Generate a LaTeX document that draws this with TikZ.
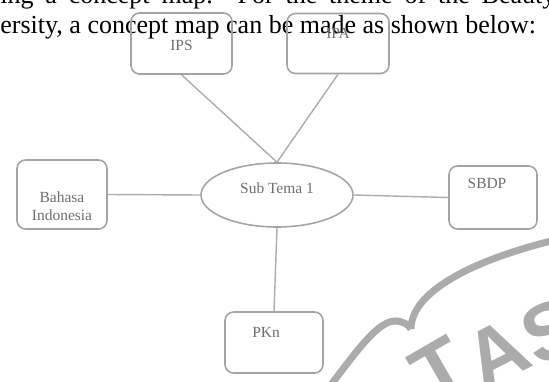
\documentclass[tikz,border=0pt]{standalone}
\usepackage{fontspec}
\setmainfont{Liberation Serif}
\newfontfamily\wmfont{Liberation Sans}
\usetikzlibrary{shapes.geometric}

\definecolor{boxgray}{HTML}{A4A4A4}
\definecolor{linegray}{HTML}{ACACAC}
\definecolor{lblgray}{HTML}{6E6E6E}
\definecolor{wmgray}{HTML}{ABABAB}

\begin{document}
\begin{tikzpicture}[
        box/.style={draw=boxgray,line width=0.9pt,rounded corners=0.17cm,inner sep=0pt},
        conn/.style={draw=linegray,line width=0.8pt},
        lbl/.style={text=lblgray,font=\fontsize{8.8}{10.5}\selectfont,align=center,inner sep=0pt},
        body/.style={font=\fontsize{14.8}{17}\selectfont,inner sep=0pt,anchor=base west},
        wm/.style={text=wmgray,font=\wmfont\bfseries\fontsize{46}{46}\selectfont,inner sep=0pt}
    ]
        \useasboundingbox (0,0) rectangle (10.98,7.62);

        % watermark
        \draw[wmgray,line width=0.14cm] (6.6,-0.1) .. controls (7.1,0.55) and (7.55,1.2) .. (7.9,1.2)
            .. controls (8.06,1.2) and (8.18,1.12) .. (8.22,1.04);
        \draw[wmgray,line width=0.14cm] (8.22,1.04) .. controls (8.22,1.7) and (9.2,2.35) .. (11.1,2.82);
        \node[wm,rotate=30] (wmT) at (8.8,0.22) {T};
        \node[wm,rotate=27] (wmA) at (9.94,0.56) {A};
        \node[wm,rotate=24] (wmS) at (11.02,1.0) {S};

        % text above the map
        \node[body] (line1) at (0,7.54) {\makebox[11.1cm][s]{ing a concept map. For the theme of the Beauty}};
        \node[body] (line2) at (0,6.95) {ersity, a concept map can be made as shown below:};

        % concept map
        \node[box,minimum width=2.02cm,minimum height=1.22cm] (ips) at (3.63,6.75) {};
        \node[box,minimum width=2.04cm,minimum height=1.2cm] (ipa) at (6.76,6.75) {};
        \node[box,minimum width=1.8cm,minimum height=1.38cm] (bahasa) at (1.24,3.73) {};
        \node[box,minimum width=1.76cm,minimum height=1.26cm] (sbdp) at (9.86,3.67) {};
        \node[box,minimum width=1.96cm,minimum height=1.22cm] (pkn) at (5.48,0.77) {};
        \node[draw=boxgray,line width=0.9pt,ellipse,minimum width=3.04cm,minimum height=1.28cm,inner sep=0pt] (tema) at (5.54,3.72) {};

        \node[lbl] (ips-t) at (3.63,6.72) {IPS};
        \node[lbl] (ipa-t) at (6.76,6.96) {IPA};
        \node[lbl] (bahasa-t) at (1.24,3.5) {Bahasa\\Indonesia};
        \node[lbl] (tema-t) at (5.54,3.86) {Sub Tema 1};
        \node[lbl] (sbdp-t) at (9.74,3.96) {SBDP};
        \node[lbl] (pkn-t) at (5.32,0.98) {PKn};

        \draw[conn] (ips.south) -- (tema.north);
        \draw[conn] (ipa.south) -- (tema.north);
        \draw[conn] (bahasa.east) -- (tema.west);
        \draw[conn] (tema.east) -- (sbdp.west);
        \draw[conn] (tema.south) -- (pkn.north);

    \end{tikzpicture}
\end{document}
